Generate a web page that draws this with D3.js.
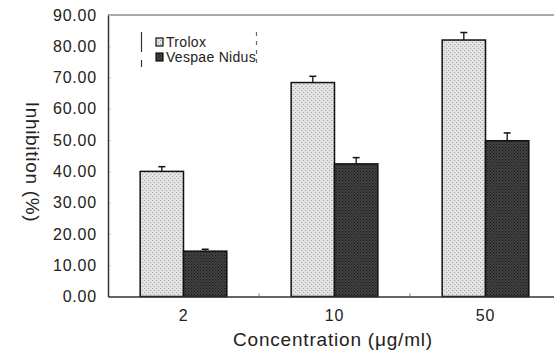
<!DOCTYPE html>
<html><head><meta charset="utf-8">
<script src="https://cdn.jsdelivr.net/npm/d3@7"></script>
<style>
html,body{margin:0;padding:0;background:#fff;}
svg{display:block;font-family:"Liberation Sans",Arial,sans-serif;}
</style></head>
<body><svg id="c" width="554" height="350"></svg>
<script>
const categories = ["2", "10", "50"];
const seriesNames = ["Trolox", "Vespae Nidus"];
const troloxValues = [40.0, 68.4, 82.0];
const troloxErrors = [1.5, 2.0, 2.4];
const vespaeValues = [14.5, 42.4, 49.8];
const vespaeErrors = [0.6, 2.0, 2.5];
const yTicks = [0, 10, 20, 30, 40, 50, 60, 70, 80, 90];

(function () {
const svg = d3.select("#c");
const pL = 108, pR = 561, pT = 15, pB = 296.5;

const defs = svg.append("defs");
function pattern(id, bg, dot, step) {
  const p = defs.append("pattern").attr("id", id).attr("patternUnits", "userSpaceOnUse")
    .attr("width", step * 2).attr("height", step * 2);
  p.append("rect").attr("width", step * 2).attr("height", step * 2).attr("fill", bg);
  p.append("rect").attr("x", 0).attr("y", 0).attr("width", 1).attr("height", 1).attr("fill", dot);
  p.append("rect").attr("x", step).attr("y", step).attr("width", 1).attr("height", 1).attr("fill", dot);
}
pattern("pTrolox", "#e4e4e4", "#9a9a9a", 2);
pattern("pVespae", "#444", "#111", 1.5);
const fills = ["url(#pTrolox)", "url(#pVespae)"];

const x0 = d3.scaleBand().domain(categories).range([pL, pR]).padding(0);
const groupW = x0.bandwidth() * 0.574;
const x1 = d3.scaleBand().domain(seriesNames).range([0, groupW]).padding(0);
const y = d3.scaleLinear().domain([0, 90]).range([pB, pT]);

const data = categories.map((c, i) => ({
  cat: c,
  vals: [
    {s: seriesNames[0], v: troloxValues[i], e: troloxErrors[i]},
    {s: seriesNames[1], v: vespaeValues[i], e: vespaeErrors[i]}
  ]
}));

svg.append("line").attr("x1", pL).attr("x2", 554).attr("y1", pT).attr("y2", pT)
  .attr("stroke", "#555").attr("stroke-width", 1.2);

const yAxis = d3.axisLeft(y).tickValues(yTicks).tickFormat(d3.format(".2f")).tickSize(0).tickPadding(11);
const gy = svg.append("g").attr("transform", `translate(${pL},0)`).call(yAxis);
gy.select(".domain").attr("stroke", "#333").attr("stroke-width", 1.5);
gy.selectAll("text").attr("font-size", 16).attr("fill", "#222").attr("letter-spacing", "0.8px")
  .attr("font-family", "'Liberation Sans', Arial, sans-serif");
gy.selectAll(".tick").append("line").attr("x1", 1).attr("x2", 3).attr("stroke", "#bbb");

const groups = svg.append("g").selectAll("g").data(data).join("g")
  .attr("transform", d => `translate(${x0(d.cat) + (x0.bandwidth() - groupW) / 2},0)`);
groups.selectAll("rect").data(d => d.vals).join("rect")
  .attr("x", d => x1(d.s)).attr("width", x1.bandwidth())
  .attr("y", d => y(d.v)).attr("height", d => y(0) - y(d.v))
  .attr("fill", (d, i) => fills[i]).attr("stroke", "#111").attr("stroke-width", 1.5);
groups.selectAll("g.err").data(d => d.vals).join("g").attr("class", "err").each(function (d) {
  const g = d3.select(this);
  const cx = x1(d.s) + x1.bandwidth() / 2;
  g.append("line").attr("x1", cx).attr("x2", cx).attr("y1", y(d.v)).attr("y2", y(d.v + d.e))
    .attr("stroke", "#111").attr("stroke-width", 1.3);
  g.append("line").attr("x1", cx - 3.5).attr("x2", cx + 3.5).attr("y1", y(d.v + d.e)).attr("y2", y(d.v + d.e))
    .attr("stroke", "#111").attr("stroke-width", 1.5);
});

const xAxis = d3.axisBottom(x0).tickSize(0).tickPadding(13);
const gx = svg.append("g").attr("transform", `translate(0,${pB})`).call(xAxis);
gx.select(".domain").attr("stroke", "#333").attr("stroke-width", 1.5);
gx.selectAll("text").attr("font-size", 16).attr("fill", "#222").attr("letter-spacing", "0.8px")
  .attr("font-family", "'Liberation Sans', Arial, sans-serif");
svg.append("g").selectAll("line").data(categories.slice(1)).join("line")
  .attr("x1", d => x0(d)).attr("x2", d => x0(d)).attr("y1", pB - 3).attr("y2", pB)
  .attr("stroke", "#777");

svg.append("text").attr("transform", "translate(26,162) rotate(90)")
  .attr("text-anchor", "middle").attr("font-size", 19).attr("fill", "#222").attr("letter-spacing", "0.7px")
  .text("Inhibition (%)");
svg.append("text").attr("x", 333).attr("y", 346).attr("text-anchor", "middle")
  .attr("font-size", 19).attr("fill", "#222").attr("letter-spacing", "0.8px")
  .text("Concentration (μg/ml)");

const lg = svg.append("g");
lg.append("line").attr("x1", 141.5).attr("x2", 141.5).attr("y1", 32).attr("y2", 52).attr("stroke", "#333").attr("stroke-width", 1.2);
lg.append("line").attr("x1", 141.5).attr("x2", 141.5).attr("y1", 60).attr("y2", 67).attr("stroke", "#333").attr("stroke-width", 1.2);
lg.append("line").attr("x1", 256.5).attr("x2", 256.5).attr("y1", 32).attr("y2", 68).attr("stroke", "#666")
  .attr("stroke-width", 1.2).attr("stroke-dasharray", "4,5");
seriesNames.forEach((s, i) => {
  const yy = 38 + i * 15;
  lg.append("rect").attr("x", 156).attr("y", yy).attr("width", 7).attr("height", 8)
    .attr("fill", fills[i]).attr("stroke", "#111").attr("stroke-width", 1.2);
  lg.append("text").attr("x", 166).attr("y", yy + 8.5).attr("font-size", 14).attr("fill", "#222")
    .attr("letter-spacing", "0.3px").text(s);
});
})();
</script></body></html>
